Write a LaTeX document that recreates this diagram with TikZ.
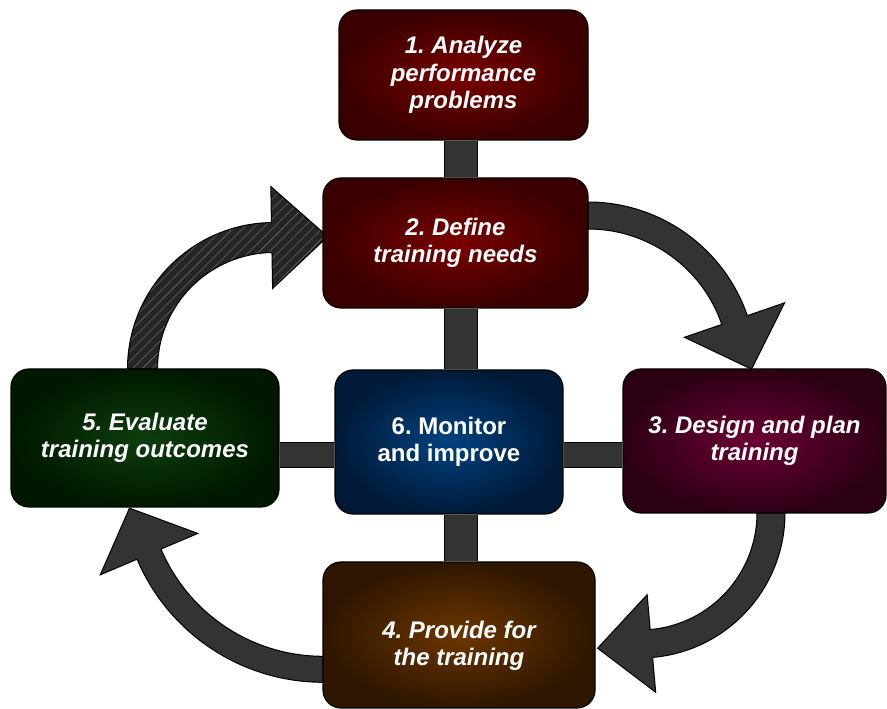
\documentclass[tikz,border=0pt]{standalone}
\usepackage{fontspec}
\setsansfont{Liberation Sans}
\usepackage{tikz}
\usetikzlibrary{calc}
\usetikzlibrary{backgrounds}
\usetikzlibrary{patterns.meta}

\definecolor{arrowgray}{HTML}{333333}
\definecolor{hatchgray}{HTML}{252525}

\frenchspacing

% 彎曲箭頭：#1 中心 #2 半徑 #3 起始角 #4 終止角 #5 箭身半寬 #6 箭頭半寬 #7 箭頭長 #8 樣式
\newcommand{\cyclearrow}[8]{%
    \pgfmathsetmacro\arOut{#2+#5}
    \pgfmathsetmacro\arIn{#2-#5}
    \pgfmathsetmacro\hdOut{#2+#6}
    \pgfmathsetmacro\hdIn{#2-#6}
    \pgfmathsetmacro\tgAng{#4-90}
    \draw[#8] ($(#1)+(#3:\arOut pt)$)
        arc[start angle=#3, end angle=#4, radius=\arOut pt]
        -- ($(#1)+(#4:\hdOut pt)$)
        -- ($(#1)+(#4:#2 pt)+(\tgAng:#7 pt)$)
        -- ($(#1)+(#4:\hdIn pt)$)
        -- ($(#1)+(#4:\arIn pt)$)
        arc[start angle=#4, end angle=#3, radius=\arIn pt]
        -- cycle;
}

\begin{document}
\begin{tikzpicture}[
    x=1pt, y=1pt,
    % --- 定義節點樣式 ---
    % 圓角方框樣式
    box/.style={
        rectangle,
        rounded corners=18pt,
        draw=black,
        line width=1.2pt,
        text=white,
        align=center,
        inner sep=0pt,
        font=\fontsize{24}{27.5}\selectfont\sffamily\bfseries\itshape
    },
    redbox/.style={box, inner color={rgb,255:red,122;green,0;blue,0}, outer color={rgb,255:red,58;green,0;blue,0}},
    purplebox/.style={box, inner color={rgb,255:red,108;green,0;blue,52}, outer color={rgb,255:red,44;green,0;blue,20}},
    brownbox/.style={box, inner color={rgb,255:red,108;green,54;blue,0}, outer color={rgb,255:red,46;green,22;blue,0}},
    greenbox/.style={box, inner color={rgb,255:red,14;green,62;blue,14}, outer color={rgb,255:red,0;green,24;blue,0}},
    bluebox/.style={box, inner color={rgb,255:red,0;green,66;blue,128}, outer color={rgb,255:red,0;green,26;blue,56}},
    % 連接條樣式
    vbar/.style={draw=black, line width=1pt, double=arrowgray, double distance=32pt},
    hbar/.style={draw=black, line width=1pt, double=arrowgray, double distance=24pt},
    % 箭頭樣式
    bigarrow/.style={draw=black, line width=1pt, fill=arrowgray},
    hatched/.style={
        draw=black, line width=1pt,
        preaction={fill=hatchgray},
        pattern={Lines[angle=45, distance=7pt, line width=0.4pt]},
        pattern color=gray
    }
]

\useasboundingbox (0,0) rectangle (887,709);

% --- 繪製方框 ---
\node[redbox, minimum width=249pt, minimum height=130pt] (analyze) at (463.5,634) {1. Analyze\\performance\\problems};
\node[redbox, minimum width=265pt, minimum height=130pt] (define) at (455.5,466) {2. Define\\training needs};
\node[purplebox, minimum width=263pt, minimum height=144pt] (design) at (754.5,268) {3. Design and plan\\training};
% 文字位置偏下
\node[brownbox, minimum width=272pt, minimum height=146pt, text height=68pt, text depth=6pt] (provide) at (459,74) {4. Provide for\\the training};
\node[greenbox, minimum width=268pt, minimum height=138pt] (evaluate) at (145,271) {5. Evaluate\\training outcomes};
\node[bluebox, minimum width=228pt, minimum height=144pt, font=\fontsize{24}{27.5}\selectfont\sffamily\bfseries] (monitor) at (449,267) {6. Monitor\\and improve};

% 連接條與箭頭的參考點
\coordinate (spine) at (460.5,0);
\coordinate (hline) at (0,253.5);
\coordinate (c23) at (588,338.5);
\coordinate (c34) at (640,196);
\coordinate (c45) at (323,228.7);
\coordinate (c52) at (274,340);

\begin{scope}[on background layer]
    % --- 連接條 ---
    \draw[vbar] (analyze.south -| spine) -- (define.north -| spine);
    \draw[vbar] (define.south -| spine) -- (monitor.north -| spine);
    \draw[vbar] (monitor.south -| spine) -- (provide.north -| spine);
    \draw[hbar] (evaluate.east |- hline) -- (monitor.west |- hline);
    \draw[hbar] (monitor.east |- hline) -- (design.west |- hline);

    % --- 循環箭頭 ---
    \cyclearrow{c23}{155}{90}{19}{13.5}{53}{52}{bigarrow}
    \cyclearrow{c34}{131}{0}{-85}{14}{49}{54}{bigarrow}
    \cyclearrow{c45}{189}{270}{203}{13}{53}{50}{bigarrow}
    \cyclearrow{c52}{131.5}{180}{91}{15}{51}{56}{hatched}
\end{scope}

\end{tikzpicture}
\end{document}
